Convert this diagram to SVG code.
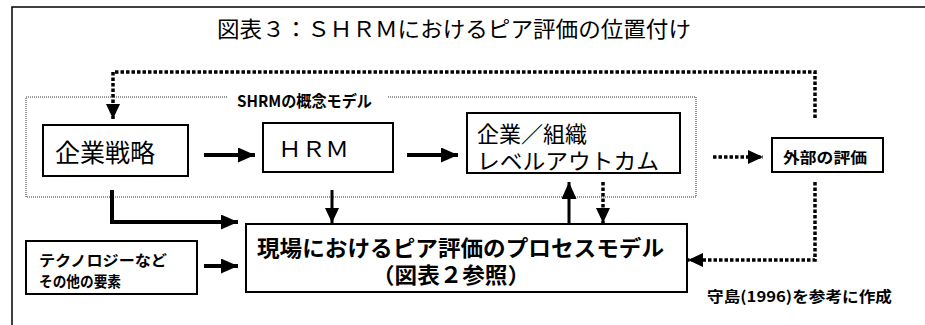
<svg xmlns="http://www.w3.org/2000/svg" width="925" height="325" viewBox="0 0 925 325">
<style>
  text { font-family: "Noto Sans CJK JP", "Noto Sans", sans-serif; fill: #000; dominant-baseline: central; }
  .b { font-weight: bold; }
  .box { fill: #fff; stroke: #000; stroke-width: 2; }
  .solid { fill: none; stroke: #000; }
  .dot { fill: none; stroke: #000; stroke-width: 3.5; stroke-dasharray: 3.5 2; }
</style>
<defs>
  <marker id="ah" markerUnits="userSpaceOnUse" markerWidth="18" markerHeight="16" refX="17" refY="7.5" orient="auto">
    <path d="M0,0 L17,7.5 L0,15 Z" fill="#000"/>
  </marker>
  <marker id="ahs" markerUnits="userSpaceOnUse" markerWidth="16" markerHeight="16" refX="15" refY="7" orient="auto">
    <path d="M0,0 L15,7 L0,14 Z" fill="#000"/>
  </marker>
</defs>
<rect width="925" height="325" fill="#fff"/>
<!-- outer frame -->
<path d="M12,330 L12,7 L930,7" fill="none" stroke="#000" stroke-width="1.5"/>
<!-- title -->
<text x="217" y="27" font-size="22" textLength="474" lengthAdjust="spacingAndGlyphs">図表３：ＳＨＲＭにおけるピア評価の位置付け</text>

<!-- SHRM conceptual model frame -->
<g id="shrm-model">
  <path d="M227,97 L26,97 L26,197 L696,197 L696,97 L387,97" fill="none" stroke="#333" stroke-width="1" stroke-dasharray="1 1"/>
  <text class="b" x="237" y="100" font-size="16" textLength="135" lengthAdjust="spacingAndGlyphs">SHRMの概念モデル</text>
</g>

<g id="strategy">
  <rect class="box" x="43" y="125" width="145" height="51"/>
  <text x="55" y="151" font-size="25" textLength="100" lengthAdjust="spacingAndGlyphs">企業戦略</text>
</g>
<g id="hrm">
  <rect class="box" x="263" y="123" width="130" height="49"/>
  <text x="278" y="147" font-size="22" textLength="71" lengthAdjust="spacingAndGlyphs">ＨＲＭ</text>
</g>
<g id="outcome">
  <rect class="box" x="467" y="113" width="213" height="60"/>
  <text font-size="22"><tspan x="477" y="132">企業／組織</tspan><tspan x="477" y="159" textLength="182" lengthAdjust="spacingAndGlyphs">レベルアウトカム</tspan></text>
</g>
<g id="external">
  <rect class="box" x="772" y="138" width="111" height="34"/>
  <text class="b" x="783" y="156" font-size="15" textLength="84" lengthAdjust="spacingAndGlyphs">外部の評価</text>
</g>
<g id="process">
  <rect class="box" x="246" y="224" width="441" height="68"/>
  <text class="b" font-size="22"><tspan x="257" y="246" textLength="407" lengthAdjust="spacingAndGlyphs">現場におけるピア評価のプロセスモデル</tspan><tspan x="372" y="273" textLength="158" lengthAdjust="spacingAndGlyphs">（図表２参照）</tspan></text>
</g>
<g id="technology">
  <rect class="box" x="26" y="241" width="171" height="53"/>
  <text class="b" font-size="15"><tspan x="39" y="259" textLength="128" lengthAdjust="spacingAndGlyphs">テクノロジーなど</tspan><tspan x="39" y="280" textLength="82" lengthAdjust="spacingAndGlyphs">その他の要素</tspan></text>
</g>
<text id="source" class="b" x="707" y="295" font-size="15" textLength="185" lengthAdjust="spacingAndGlyphs">守島(1996)を参考に作成</text>

<g id="connectors">
  <path class="solid" stroke-width="4" d="M204,155 L255,155" marker-end="url(#ah)"/>
  <path class="solid" stroke-width="4" d="M407,155 L458,155" marker-end="url(#ah)"/>
  <path class="solid" stroke-width="4" d="M112,190 L112,222 L238,222" marker-end="url(#ah)"/>
  <path class="solid" stroke-width="3" d="M332,190 L332,223" marker-end="url(#ahs)"/>
  <path class="solid" stroke-width="3" d="M569,224 L569,182" marker-end="url(#ah)"/>
  <path class="dot" d="M603,182 L603,223" marker-end="url(#ahs)"/>
  <path class="dot" d="M713,157 L763,157" marker-end="url(#ahs)"/>
  <path class="dot" d="M815,118 L815,72 L113,72 L113,119" marker-end="url(#ahs)"/>
  <path class="dot" d="M815,182 L815,260 L688,260" marker-end="url(#ahs)"/>
  <path class="solid" stroke-width="4" d="M204,266 L238,266" marker-end="url(#ah)"/>
</g>
</svg>
